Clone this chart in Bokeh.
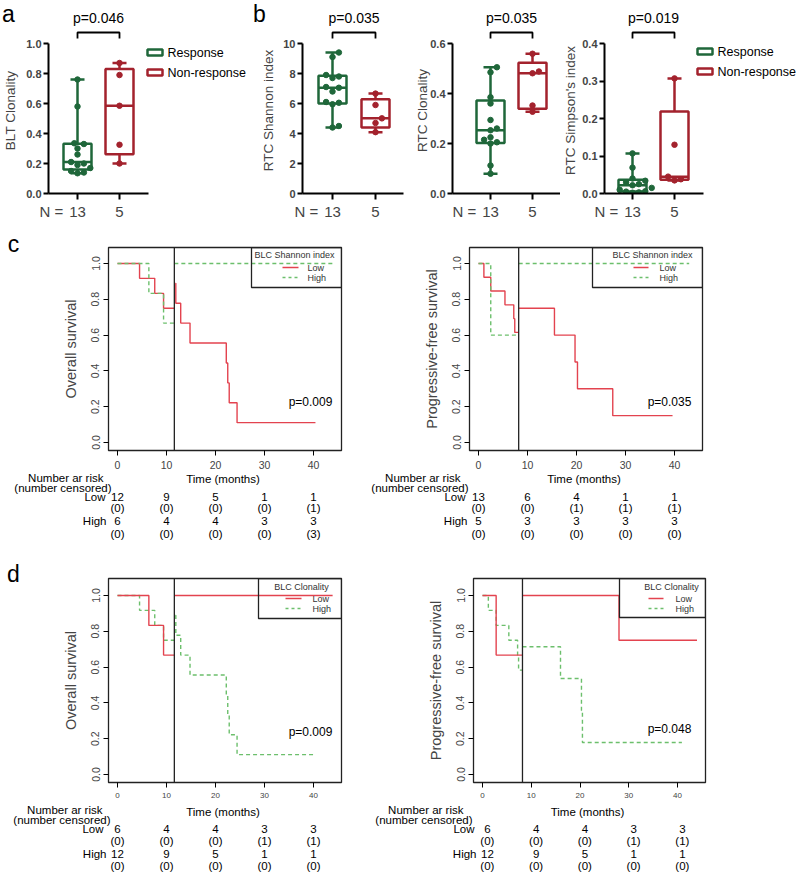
import numpy as np
from bokeh.plotting import figure
from bokeh.layouts import row, column
from bokeh.models import Range1d, Label, FixedTicker, Span, PrintfTickFormatter, LinearAxis
from bokeh.embed import file_html
from bokeh.resources import INLINE

FONT = "Liberation Sans"
GREEN = "#1f673a"
RED = "#a3222d"
KM_RED = "#e3434f"
KM_GREEN = "#6cbf6c"

# ---------------- data: box plots (panels a, b) ----------------
categories = ["Response", "Non-response"]
blt_clonality_response = [0.135, 0.14, 0.15, 0.17, 0.19, 0.20, 0.21, 0.26, 0.30, 0.33, 0.335, 0.58, 0.76]
blt_clonality_nonresp = [0.20, 0.325, 0.585, 0.79, 0.87]
rtc_shannon_response = [4.4, 4.5, 5.95, 6.05, 6.1, 6.8, 7.05, 7.1, 7.7, 7.8, 7.9, 9.1, 9.4]
rtc_shannon_nonresp = [4.09, 4.7, 5.01, 5.9, 6.66]
rtc_clonality_response = [0.079, 0.112, 0.200, 0.205, 0.215, 0.225, 0.253, 0.26, 0.294, 0.36, 0.385, 0.485, 0.505]
rtc_clonality_nonresp = [0.327, 0.352, 0.481, 0.488, 0.559]
rtc_simpson_response = [0.002, 0.003, 0.005, 0.006, 0.010, 0.015, 0.022, 0.025, 0.030, 0.034, 0.040, 0.069, 0.107]
rtc_simpson_nonresp = [0.035, 0.038, 0.045, 0.13, 0.307]
box_pvalues = ["p=0.046", "p=0.035", "p=0.035", "p=0.019"]

# ---------------- data: Kaplan-Meier (panels c, d) ----------------
c_os_landmark = 11.6
c_os_low_pre_t = [0, 4.5, 7.6, 9.4, 11.6]
c_os_low_pre_s = [1.0, 0.917, 0.833, 0.75, 0.75]
c_os_low_post_t = [11.8, 11.9, 12.9, 14.8, 22.2, 22.5, 22.8, 24.4, 40.4]
c_os_low_post_s = [0.889, 0.778, 0.667, 0.556, 0.444, 0.333, 0.222, 0.111, 0.111]
c_os_high_pre_t = [0, 6.4, 9.4, 11.6]
c_os_high_pre_s = [1.0, 0.833, 0.667, 0.667]
c_os_high_post_t = [11.6, 44.0]
c_os_high_post_s = [1.0, 1.0]

c_pfs_landmark = 8.2
c_pfs_low_pre_t = [0, 1.1, 2.5, 5.4, 7.2, 7.4, 8.2]
c_pfs_low_pre_s = [1.0, 0.923, 0.846, 0.769, 0.692, 0.615, 0.615]
c_pfs_low_post_t = [8.2, 15.5, 19.7, 20.2, 27.4, 39.6]
c_pfs_low_post_s = [0.75, 0.60, 0.45, 0.30, 0.15, 0.15]
c_pfs_high_pre_t = [0, 2.5, 8.2]
c_pfs_high_pre_s = [1.0, 0.6, 0.6]
c_pfs_high_post_t = [8.2, 43.0]
c_pfs_high_post_s = [1.0, 1.0]

d_os_landmark = 11.6
d_os_low_pre_t = [0, 6.4, 9.4, 11.6]
d_os_low_pre_s = [1.0, 0.833, 0.667, 0.667]
d_os_low_post_t = [11.6, 43.9]
d_os_low_post_s = [1.0, 1.0]
d_os_high_pre_t = [0, 4.5, 7.6, 9.4, 11.6]
d_os_high_pre_s = [1.0, 0.917, 0.833, 0.75, 0.75]
d_os_high_post_t = [11.8, 11.9, 12.9, 14.8, 22.2, 22.5, 22.8, 24.4, 40.4]
d_os_high_post_s = [0.889, 0.778, 0.667, 0.556, 0.444, 0.333, 0.222, 0.111, 0.111]

d_pfs_landmark = 8.2
d_pfs_low_pre_t = [0, 2.8, 8.2]
d_pfs_low_pre_s = [1.0, 0.667, 0.667]
d_pfs_low_post_t = [8.2, 28.0, 44.0]
d_pfs_low_post_s = [1.0, 0.75, 0.75]
d_pfs_high_pre_t = [0, 1.2, 2.8, 5.4, 7.2, 7.4, 8.2]
d_pfs_high_pre_s = [1.0, 0.917, 0.833, 0.75, 0.667, 0.583, 0.583]
d_pfs_high_post_t = [8.2, 16.0, 20.3, 20.5, 40.9]
d_pfs_high_post_s = [0.714, 0.536, 0.357, 0.179, 0.179]
km_pvalues = ["p=0.009", "p=0.035", "p=0.009", "p=0.048"]

risk_times = [0, 10, 20, 30, 40]
c_os_low_n = [12, 9, 5, 1, 1]
c_os_low_cens = [0, 0, 0, 0, 1]
c_os_high_n = [6, 4, 4, 3, 3]
c_os_high_cens = [0, 0, 0, 0, 3]
c_pfs_low_n = [13, 6, 4, 1, 1]
c_pfs_low_cens = [0, 0, 1, 1, 1]
c_pfs_high_n = [5, 3, 3, 3, 3]
c_pfs_high_cens = [0, 0, 0, 0, 0]
d_low_n = [6, 4, 4, 3, 3]
d_low_cens = [0, 0, 0, 1, 1]
d_high_n = [12, 9, 5, 1, 1]
d_high_cens = [0, 0, 0, 0, 0]


def lab(p, x, y, text, size, align="center", bold=False, color="black"):
    p.add_layout(Label(x=x, y=y, text=text, text_align=align, text_baseline="middle",
                       text_font=FONT, text_font_size=size, text_color=color,
                       text_font_style="bold" if bold else "normal"))


def blank_fig(fx0, fx1, fy0, fy1, xr=None):
    """Figure without axes whose frame fills it; y in page pixels (downwards)."""
    p = figure(width=fx1 - fx0, height=fy1 - fy0, output_backend="svg", toolbar_location=None,
               x_range=xr if xr is not None else Range1d(fx0, fx1), y_range=Range1d(fy1, fy0),
               x_axis_location=None, y_axis_location=None,
               min_border=0, min_border_left=0, min_border_right=0, min_border_top=0, min_border_bottom=0)
    p.outline_line_color = None
    p.grid.visible = False
    return p


def swarm_offsets(vals, px_per_y, px_per_x, d=6.0, step=3.2):
    vals = np.asarray(vals, float)
    order = np.argsort(vals)
    placed = []
    out = np.zeros(len(vals))
    cands = [0.0]
    for k in range(1, 14):
        cands += [k * step, -k * step]
    for i in order:
        yp = vals[i] * px_per_y
        chosen = cands[-1]
        for c in cands:
            if all((c - a) ** 2 + (yp - b) ** 2 >= d * d for a, b in placed):
                chosen = c
                break
        placed.append((chosen, yp))
        out[i] = chosen / px_per_x
    return out


W = 800
STRIP1 = (0, 27)
ROW1 = (27, 228)
ZERO_PX, MAX_PX = 193, 43


def box_panel(fx0, fx1, ax, c1, c2, aend, ymax, ystep, fmt, ylabel, resp, nonr,
              legend_px=None, yl_standoff=3):
    u = float(c2 - c1)
    yscale = (ZERO_PX - MAX_PX) / ymax
    X = lambda px: 1 + (px - c1) / u
    Y = lambda py: (ZERO_PX - py) / yscale
    fy0, fy1 = ROW1
    p = figure(width=fx1 - fx0, height=fy1 - fy0, output_backend="svg", toolbar_location=None,
               x_range=Range1d(X(ax), X(fx1)), y_range=Range1d(0, Y(fy0)),
               min_border_left=ax - fx0, min_border_right=0, min_border_top=0,
               min_border_bottom=fy1 - ZERO_PX)
    p.outline_line_color = None
    p.xgrid.visible = False
    p.ygrid.visible = False
    xa = p.xaxis[0]
    xa.ticker = FixedTicker(ticks=[1, 2])
    xa.major_label_overrides = {1: "", 2: ""}
    xa.major_label_text_font_size = "0px"
    xa.major_label_standoff = 0
    xa.bounds = (X(ax), X(aend))
    xa.axis_line_width = 2
    xa.major_tick_line_width = 2
    xa.major_tick_out = 6
    xa.major_tick_in = 0
    xa.minor_tick_line_color = None
    xn = round(1 - 26 / u, 3)
    nax = LinearAxis(ticker=FixedTicker(ticks=[xn, 1, 2]),
                     major_label_overrides={xn: "N =", 1: str(len(resp)), 2: str(len(nonr))})
    nax.axis_line_color = None
    nax.major_tick_line_color = None
    nax.minor_tick_line_color = None
    nax.major_tick_out = 0
    nax.major_tick_in = 0
    nax.major_label_standoff = 3
    nax.major_label_text_font = FONT
    nax.major_label_text_font_size = "15px"
    p.add_layout(nax, "below")

    ya = p.yaxis[0]
    ya.ticker = FixedTicker(ticks=[round(v, 4) for v in np.arange(0, ymax + 1e-9, ystep)])
    ya.formatter = PrintfTickFormatter(format=fmt)
    ya.bounds = (0, ymax)
    ya.axis_line_width = 2
    ya.major_tick_line_width = 2
    ya.major_tick_out = 5
    ya.major_tick_in = 0
    ya.minor_tick_line_color = None
    ya.major_label_text_font = FONT
    ya.major_label_text_font_size = "11px"
    ya.major_label_text_font_style = "bold"
    ya.major_label_standoff = 2
    ya.axis_label = ylabel
    ya.axis_label_text_font = FONT
    ya.axis_label_text_font_size = "13.5px"
    ya.axis_label_text_font_style = "normal"
    ya.axis_label_standoff = yl_standoff

    bw = 14 / u
    cw = 7 / u
    for gi, (vals, col) in enumerate([(resp, GREEN), (nonr, RED)]):
        x0 = gi + 1
        v = np.asarray(vals, float)
        q1, med, q3 = np.percentile(v, [25, 50, 75], method="weibull")
        lo, hi = v.min(), v.max()
        p.segment(x0=[x0, x0], y0=[q3, q1], x1=[x0, x0], y1=[hi, lo], line_color=col, line_width=2.5)
        p.segment(x0=[x0 - cw, x0 - cw], y0=[hi, lo], x1=[x0 + cw, x0 + cw], y1=[hi, lo],
                  line_color=col, line_width=2.5)
        p.quad(left=[x0 - bw], right=[x0 + bw], bottom=[q1], top=[q3], fill_color="white",
               line_color=col, line_width=2.5)
        p.segment(x0=[x0 - bw], y0=[med], x1=[x0 + bw], y1=[med], line_color=col, line_width=2.5)
        offs = swarm_offsets(v, yscale, u)
        p.scatter(x=x0 + offs, y=v, size=5.5, fill_color=col, line_color=col)

    p.line([1, 1, 2, 2], [Y(38), Y(32), Y(32), Y(38)], line_color="black", line_width=1.8)
    if legend_px is not None:
        lx, ly = legend_px
        for k, (name, col) in enumerate(zip(categories, [GREEN, RED])):
            yy = ly + 20 * k
            p.quad(left=[X(lx)], right=[X(lx + 15)], bottom=[Y(yy + 3)], top=[Y(yy - 3)],
                   fill_color="white", line_color=col, line_width=2.5)
            lab(p, X(lx + 20), Y(yy), name, "12.5px", align="left")
    return p


BOX_CFG = [
    (0, 252, 48, 77, 119, 148, 1.0, 0.2, "%.1f", "BLT Clonality",
     blt_clonality_response, blt_clonality_nonresp, (147, 52), 5),
    (252, 408, 302, 332, 375, 403, 10, 2, "%d", "RTC Shannon index",
     rtc_shannon_response, rtc_shannon_nonresp, None, 4),
    (408, 560, 452, 490, 532, 560, 0.6, 0.2, "%.1f", "RTC Clonality",
     rtc_clonality_response, rtc_clonality_nonresp, None, -3),
    (560, W, 604, 632, 674, 703, 0.4, 0.1, "%.1f", "RTC Simpson's index",
     rtc_simpson_response, rtc_simpson_nonresp, (697, 51), 1),
]
box_figs = []
strip1 = blank_fig(0, W, *STRIP1)
lab(strip1, 8, 13, "a", "23px")
lab(strip1, 259, 13, "b", "23px")
for k, cfg in enumerate(BOX_CFG):
    fx0, fx1, ax, c1, c2, aend, ymax, ystep, fmt, ylab, resp, nonr, leg, sto = cfg
    box_figs.append(box_panel(fx0, fx1, ax, c1, c2, aend, ymax, ystep, fmt, ylab, resp, nonr,
                              legend_px=leg, yl_standoff=sto))
    lab(strip1, (c1 + c2) / 2, 17, box_pvalues[k], "14px")


def km_panel(fx0, fx1, fy0, fy1, fl, fr, ft, fb, x0px, xs, y0px, ys, curves, landmark,
             legend_title, legend, pval, pval_px, ylabel, tick_size):
    X = lambda px: (px - x0px) / xs
    Y = lambda py: (y0px - py) / ys
    p = figure(width=fx1 - fx0, height=fy1 - fy0, output_backend="svg", toolbar_location=None,
               x_range=Range1d(X(fl), X(fr)), y_range=Range1d(Y(fb), Y(ft)),
               min_border_left=fl - fx0, min_border_right=fx1 - fr,
               min_border_top=ft - fy0, min_border_bottom=fy1 - fb)
    p.outline_line_color = "#222222"
    p.outline_line_width = 1.3
    p.xgrid.visible = False
    p.ygrid.visible = False
    xa = p.xaxis[0]
    xa.ticker = FixedTicker(ticks=risk_times)
    xa.bounds = (0, 40)
    xa.axis_line_color = "#222222"
    xa.major_tick_out = 5
    xa.major_tick_in = 0
    xa.minor_tick_line_color = None
    xa.major_label_text_font = FONT
    xa.major_label_text_font_size = tick_size
    xa.major_label_standoff = 5
    ya = p.yaxis[0]
    ya.ticker = FixedTicker(ticks=[0, 0.2, 0.4, 0.6, 0.8, 1.0])
    ya.formatter = PrintfTickFormatter(format="%.1f")
    ya.bounds = (0, 1)
    ya.axis_line_color = "#222222"
    ya.major_tick_out = 5
    ya.major_tick_in = 0
    ya.minor_tick_line_color = None
    ya.major_label_orientation = "vertical"
    ya.major_label_text_font = FONT
    ya.major_label_text_font_size = "10.5px"
    ya.major_label_standoff = 4
    ya.axis_label = ylabel
    ya.axis_label_text_font = FONT
    ya.axis_label_text_font_size = "14.5px"
    ya.axis_label_text_font_style = "normal"
    ya.axis_label_standoff = 10

    for t, s, col, dash in curves:
        p.step(x=t, y=s, mode="after", line_color=col, line_width=1.4, line_dash=dash)

    lx0, lyb, tcx, ty, ylow, yhigh, sx0, sx1, txl = legend
    p.quad(left=[X(lx0)], right=[X(fr)], bottom=[Y(lyb)], top=[Y(ft)], fill_color=None,
           line_color="#222222", line_width=1.3)
    lab(p, X(tcx), Y(ty), legend_title, "9px", color="#333333")
    p.line([X(sx0), X(sx1)], [Y(ylow), Y(ylow)], line_color=KM_RED, line_width=1.4)
    p.line([X(sx0), X(sx1)], [Y(yhigh), Y(yhigh)], line_color=KM_GREEN, line_width=1.4, line_dash="3 3")
    lab(p, X(txl), Y(ylow), "Low", "9px", align="left", color="#333333")
    lab(p, X(txl), Y(yhigh), "High", "9px", align="left", color="#333333")

    p.add_layout(Span(location=landmark, dimension="height", line_color="#222222", line_width=1.3))
    lab(p, X(pval_px[0]), Y(pval_px[1]), pval, "12px")
    return p


def risk_panel(fx0, fx1, fy0, fy1, fl, fr, x0px, xs, risk, rows_py, head_px, lowhigh_px, table_dx=0.0):
    X = lambda px: (px - x0px) / xs
    p = blank_fig(fx0, fx1, fy0, fy1, xr=Range1d(X(fx0), X(fx1)))
    time_y, h1y, h2y, ly, lcy, hy, hcy = rows_py
    lab(p, X((fl + fr) / 2 - 2), time_y, "Time (months)", "11.5px")
    h1x, h2x = head_px
    lab(p, X(h1x), h1y, "Number ar risk", "11.5px", align="right")
    lab(p, X(h2x), h2y, "(number censored)", "11.5px", align="right")
    lowx, highx = lowhigh_px
    lab(p, X(lowx), ly, "Low", "11.5px", align="right")
    lab(p, X(highx), hy, "High", "11.5px", align="right")
    low_n, low_c, high_n, high_c = risk
    for k, t in enumerate(risk_times):
        xx = t + table_dx
        lab(p, xx, ly, str(low_n[k]), "11.5px")
        lab(p, xx, lcy, "(%d)" % low_c[k], "11.5px")
        lab(p, xx, hy, str(high_n[k]), "11.5px")
        lab(p, xx, hcy, "(%d)" % high_c[k], "11.5px")
    return p


SOLID = "solid"
DASH = "4 3"
SPLIT = 368   # boundary between left and right risk tables
LW = 22       # width of the panel-letter column for c and d

# row c
STRIP2 = (228, 246)
KMC = (246, 472)
TABC = (472, 552)
letter_c = blank_fig(0, LW, STRIP2[0], KMC[1])
lab(letter_c, 13, 243, "c", "23px")
strip2 = blank_fig(LW, W, *STRIP2)
c_rows = [478, 477, 487, 496, 507, 520, 533]

pcl = km_panel(LW, 400, KMC[0], KMC[1], 108, 341, 247, 450, 117, 4.9, 442, 179,
               [(c_os_low_pre_t, c_os_low_pre_s, KM_RED, SOLID),
                (c_os_low_post_t, c_os_low_post_s, KM_RED, SOLID),
                (c_os_high_pre_t, c_os_high_pre_s, KM_GREEN, DASH),
                (c_os_high_post_t, c_os_high_post_s, KM_GREEN, DASH)],
               c_os_landmark, "BLC Shannon index",
               (251, 287, 294, 254, 267, 277, 282, 298, 307),
               km_pvalues[0], (310, 401), "Overall survival", "10.5px")
tcl = risk_panel(0, SPLIT, TABC[0], TABC[1], 108, 341, 117, 4.9,
                 (c_os_low_n, c_os_low_cens, c_os_high_n, c_os_high_cens),
                 c_rows, (103, 111), (105, 106))
pcr = km_panel(400, W, KMC[0], KMC[1], 469, 702, 247, 450, 478, 4.9, 442, 179,
               [(c_pfs_low_pre_t, c_pfs_low_pre_s, KM_RED, SOLID),
                (c_pfs_low_post_t, c_pfs_low_post_s, KM_RED, SOLID),
                (c_pfs_high_pre_t, c_pfs_high_pre_s, KM_GREEN, DASH),
                (c_pfs_high_post_t, c_pfs_high_post_s, KM_GREEN, DASH)],
               c_pfs_landmark, "BLC Shannon index",
               (592, 287, 652, 254, 267, 277, 633, 648, 659),
               km_pvalues[1], (669, 401), "Progressive-free survival", "10.5px")
tcr = risk_panel(SPLIT, W, TABC[0], TABC[1], 469, 702, 478, 4.9,
                 (c_pfs_low_n, c_pfs_low_cens, c_pfs_high_n, c_pfs_high_cens),
                 c_rows, (460, 468), (465, 467))

# row d
STRIP3 = (552, 577)
KMD = (577, 804)
TABD = (804, 873)
letter_d = blank_fig(0, LW, STRIP3[0], KMD[1])
lab(letter_d, 13, 573, "d", "23px")
strip3 = blank_fig(LW, W, *STRIP3)
d_rows = [811, 809, 819, 828, 840, 853, 865]

pdl = km_panel(LW, 400, KMD[0], KMD[1], 108, 341, 578, 782, 117, 4.9, 774, 179,
               [(d_os_high_pre_t, d_os_high_pre_s, KM_GREEN, DASH),
                (d_os_high_post_t, d_os_high_post_s, KM_GREEN, DASH),
                (d_os_low_pre_t, d_os_low_pre_s, KM_RED, SOLID),
                (d_os_low_post_t, d_os_low_post_s, KM_RED, SOLID)],
               d_os_landmark, "BLC Clonality",
               (258, 618, 301, 586, 598, 608, 285, 301, 312),
               km_pvalues[2], (310, 731), "Overall survival", "8px")
tdl = risk_panel(0, SPLIT, TABD[0], TABD[1], 108, 341, 117, 4.9,
                 (d_low_n, d_low_cens, d_high_n, d_high_cens),
                 d_rows, (102, 110), (103, 106))
pdr = km_panel(400, W, KMD[0], KMD[1], 473, 705, 578, 782, 482, 4.875, 774, 179,
               [(d_pfs_high_pre_t, d_pfs_high_pre_s, KM_GREEN, DASH),
                (d_pfs_high_post_t, d_pfs_high_post_s, KM_GREEN, DASH),
                (d_pfs_low_pre_t, d_pfs_low_pre_s, KM_RED, SOLID),
                (d_pfs_low_post_t, d_pfs_low_post_s, KM_RED, SOLID)],
               d_pfs_landmark, "BLC Clonality",
               (619, 617, 671, 586, 598, 608, 648, 663, 675),
               km_pvalues[3], (669, 728), "Progressive-free survival", "8px")
tdr = risk_panel(SPLIT, W, TABD[0], TABD[1], 473, 705, 482, 4.875,
                 (d_low_n, d_low_cens, d_high_n, d_high_cens),
                 d_rows, (463, 472), (474, 476), table_dx=1.0)

layout = column(strip1, row(*box_figs),
                row(letter_c, column(strip2, row(pcl, pcr))), row(tcl, tcr),
                row(letter_d, column(strip3, row(pdl, pdr))), row(tdl, tdr))
open("out.html", "w").write(file_html(layout, INLINE))
